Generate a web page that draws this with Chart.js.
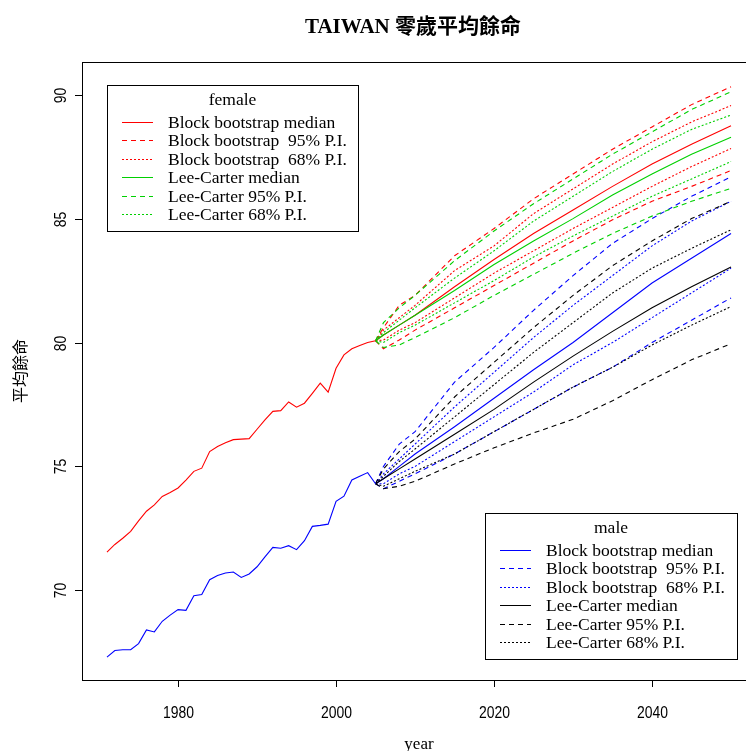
<!DOCTYPE html>
<html>
<head>
<meta charset="utf-8">
<script src="https://cdn.jsdelivr.net/npm/chart.js@4.4.1/dist/chart.umd.min.js"></script>
<style>
  body { margin: 0; background: #fff; overflow: hidden; }
  #wrap { width: 780px; height: 751px; }
</style>
</head>
<body>
<div id="wrap"><canvas id="myChart" width="780" height="751"></canvas></div>
<script>
// observed life expectancy at birth
const histYears = [1971, 1972, 1973, 1974, 1975, 1976, 1977, 1978, 1979, 1980,
  1981, 1982, 1983, 1984, 1985, 1986, 1987, 1988, 1989, 1990,
  1991, 1992, 1993, 1994, 1995, 1996, 1997, 1998, 1999, 2000,
  2001, 2002, 2003, 2004, 2005];
const femaleHist = [71.54, 71.85, 72.1, 72.38, 72.8, 73.19, 73.45, 73.79, 73.95, 74.13,
  74.45, 74.8, 74.93, 75.6, 75.8, 75.95, 76.08, 76.1, 76.12, 76.5,
  76.88, 77.22, 77.25, 77.6, 77.39, 77.55, 77.95, 78.36, 78.0, 78.96,
  79.5, 79.75, 79.88, 80.0, 80.07];
const maleHist = [67.3, 67.57, 67.6, 67.6, 67.85, 68.4, 68.32, 68.75, 69.0, 69.22,
  69.19, 69.78, 69.83, 70.43, 70.6, 70.7, 70.74, 70.52, 70.66, 70.95,
  71.35, 71.73, 71.7, 71.8, 71.64, 72.0, 72.58, 72.62, 72.67, 73.59,
  73.8, 74.45, 74.6, 74.75, 74.3];

// forecasts
const fcYears = [2005, 2006, 2008, 2010, 2015, 2020, 2025, 2030, 2035, 2040, 2045, 2050];

const fBbMed  = [80.07, 80.3, 80.7, 81.1, 82.25, 83.35, 84.4, 85.35, 86.3, 87.2, 88.0, 88.75];
const fBb95Hi = [80.07, 80.6, 81.5, 81.9, 83.5, 84.6, 85.8, 86.8, 87.8, 88.7, 89.6, 90.32];
const fBb95Lo = [80.07, 79.75, 80.1, 80.5, 81.4, 82.3, 83.2, 84.1, 84.95, 85.7, 86.3, 86.94];
const fBb68Hi = [80.07, 80.5, 81.0, 81.5, 82.9, 83.9, 85.2, 86.2, 87.2, 88.1, 88.9, 89.56];
const fBb68Lo = [80.07, 80.1, 80.5, 80.8, 81.8, 82.8, 83.7, 84.6, 85.45, 86.3, 87.1, 87.83];
const fLcMed  = [80.07, 80.3, 80.7, 81.1, 82.1, 83.15, 84.1, 85.0, 85.95, 86.8, 87.6, 88.28];
const fLc95Hi = [80.07, 80.8, 81.4, 81.9, 83.3, 84.5, 85.6, 86.6, 87.6, 88.5, 89.4, 90.12];
const fLc95Lo = [80.07, 79.8, 79.9, 80.2, 81.0, 81.9, 82.75, 83.6, 84.4, 85.1, 85.7, 86.22];
const fLc68Hi = [80.07, 80.4, 80.9, 81.4, 82.6, 83.7, 84.9, 85.9, 86.9, 87.8, 88.6, 89.18];
const fLc68Lo = [80.07, 80.0, 80.4, 80.7, 81.6, 82.5, 83.45, 84.3, 85.1, 85.9, 86.6, 87.3];

const mBbMed  = [74.3, 74.5, 75.0, 75.5, 76.6, 77.75, 78.9, 80.0, 81.2, 82.4, 83.4, 84.4];
const mBb95Hi = [74.3, 75.0, 75.9, 76.4, 78.4, 79.8, 81.3, 82.7, 84.0, 85.0, 85.9, 86.69];
const mBb95Lo = [74.3, 74.1, 74.4, 74.7, 75.5, 76.4, 77.3, 78.2, 79.0, 80.0, 80.9, 81.8];
const mBb68Hi = [74.3, 74.7, 75.3, 75.9, 77.4, 78.8, 80.2, 81.5, 82.7, 83.9, 84.9, 85.7];
const mBb68Lo = [74.3, 74.3, 74.7, 75.0, 76.0, 77.0, 78.0, 79.1, 80.0, 81.0, 82.0, 83.0];
const mLcMed  = [74.3, 74.5, 74.9, 75.3, 76.3, 77.3, 78.4, 79.45, 80.45, 81.4, 82.25, 83.05];
const mLc95Hi = [74.3, 74.9, 75.6, 76.1, 77.8, 79.2, 80.6, 81.9, 83.1, 84.1, 85.0, 85.7];
const mLc95Lo = [74.3, 74.1, 74.2, 74.4, 75.1, 75.75, 76.35, 76.9, 77.65, 78.5, 79.3, 79.95];
const mLc68Hi = [74.3, 74.6, 75.2, 75.7, 77.0, 78.3, 79.6, 80.8, 82.0, 83.0, 83.8, 84.55];
const mLc68Lo = [74.3, 74.2, 74.5, 74.8, 75.5, 76.4, 77.3, 78.2, 79.0, 79.9, 80.7, 81.45];

const xTicks = [1980, 2000, 2020, 2040];
const yTicks = [70, 75, 80, 85, 90];

const legendLabels = ["Block bootstrap median", "Block bootstrap  95% P.I.", "Block bootstrap  68% P.I.",
  "Lee-Carter median", "Lee-Carter 95% P.I.", "Lee-Carter 68% P.I."];

const RED = "#ff0000", GREEN = "#00d000", BLUE = "#0000ff", BLACK = "#000000";
const SOLID = [], DASH = [5, 4], DOT = [2, 2];

function pts(xs, ys) {
  return xs.map((x, i) => ({ x: x, y: ys[i] }));
}
function line(xs, ys, color, dash) {
  return {
    data: pts(xs, ys), borderColor: color, borderDash: dash, borderWidth: 1.1,
    pointRadius: 0, tension: 0, fill: false
  };
}

let datasets = [
  line(histYears, femaleHist, RED, SOLID),
  line(histYears, maleHist, BLUE, SOLID),
  line(fcYears, fLc95Hi, GREEN, DASH), line(fcYears, fLc95Lo, GREEN, DASH),
  line(fcYears, fLc68Hi, GREEN, DOT), line(fcYears, fLc68Lo, GREEN, DOT),
  line(fcYears, fLcMed, GREEN, SOLID),
  line(fcYears, fBb95Hi, RED, DASH), line(fcYears, fBb95Lo, RED, DASH),
  line(fcYears, fBb68Hi, RED, DOT), line(fcYears, fBb68Lo, RED, DOT),
  line(fcYears, fBbMed, RED, SOLID),
  line(fcYears, mLc95Hi, BLACK, DASH), line(fcYears, mLc95Lo, BLACK, DASH),
  line(fcYears, mLc68Hi, BLACK, DOT), line(fcYears, mLc68Lo, BLACK, DOT),
  line(fcYears, mLcMed, BLACK, SOLID),
  line(fcYears, mBb95Hi, BLUE, DASH), line(fcYears, mBb95Lo, BLUE, DASH),
  line(fcYears, mBb68Hi, BLUE, DOT), line(fcYears, mBb68Lo, BLUE, DOT),
  line(fcYears, mBbMed, BLUE, SOLID)
];

const SERIF = '"Liberation Serif", "Times New Roman", serif';
const TICKFONT = '17px "Liberation Sans", sans-serif';

// legend key drawn pixel by pixel so the colour stays crisp
function drawKey(ctx, x0, y0, len, color, dash) {
  ctx.fillStyle = color;
  if (dash.length == 0) {
    ctx.fillRect(x0, y0, len, 1);
    return;
  }
  let x = x0, on = true, k = 0;
  while (x < x0 + len) {
    let seg = Math.min(dash[k % dash.length], x0 + len - x);
    if (on) ctx.fillRect(x, y0, seg, 1);
    x += seg;
    on = !on;
    k++;
  }
}

function drawLegend(ctx, left, top, w, h, title, styles) {
  ctx.save();
  ctx.strokeStyle = "#000";
  ctx.lineWidth = 1;
  ctx.setLineDash([]);
  ctx.strokeRect(left + 0.5, top + 0.5, w, h);
  ctx.font = "17.5px " + SERIF;
  ctx.textBaseline = "middle";
  ctx.textAlign = "center";
  ctx.fillStyle = "#000";
  ctx.fillText(title, left + w / 2, top + 15);
  ctx.textAlign = "left";
  for (let i = 0; i < legendLabels.length; i++) {
    let yy = Math.round(top + 37 + i * 18.4);
    drawKey(ctx, left + 15, yy, 31, styles[i][0], styles[i][1]);
    ctx.fillStyle = "#000";
    ctx.fillText(legendLabels[i], left + 61, yy + 1.5);
  }
  ctx.restore();
}

// R style box, ticks, labels and the two legends
const rDecor = {
  id: "rDecor",
  afterDraw(chart) {
    const ctx = chart.ctx;
    const a = chart.chartArea;
    const xs = chart.scales.x, ys = chart.scales.y;
    ctx.save();
    ctx.strokeStyle = "#000";
    ctx.fillStyle = "#000";
    ctx.lineWidth = 1;
    ctx.setLineDash([]);
    ctx.strokeRect(Math.round(a.left) + 0.5, Math.round(a.top) + 0.5,
      Math.round(a.right - a.left), Math.round(a.bottom - a.top));

    ctx.font = TICKFONT;
    ctx.textAlign = "center";
    ctx.textBaseline = "middle";
    xTicks.forEach(v => {
      let px = Math.round(xs.getPixelForValue(v)) + 0.5;
      ctx.beginPath();
      ctx.moveTo(px, a.bottom);
      ctx.lineTo(px, a.bottom + 7);
      ctx.stroke();
      ctx.save();
      ctx.translate(px, a.bottom + 33);
      ctx.scale(0.82, 1);
      ctx.fillText(String(v), 0, 0);
      ctx.restore();
    });
    yTicks.forEach(v => {
      let py = Math.round(ys.getPixelForValue(v)) + 0.5;
      ctx.beginPath();
      ctx.moveTo(a.left, py);
      ctx.lineTo(a.left - 7, py);
      ctx.stroke();
      ctx.save();
      ctx.translate(a.left - 21, py);
      ctx.rotate(-Math.PI / 2);
      ctx.scale(0.82, 1);
      ctx.fillText(String(v), 0, 0);
      ctx.restore();
    });

    // titles
    ctx.font = 'bold 21px "Liberation Serif", "Noto Sans CJK TC", serif';
    ctx.fillText("TAIWAN 零歲平均餘命", 413, 28);
    ctx.font = "17px " + SERIF;
    ctx.fillText("year", 419, 745);
    ctx.save();
    ctx.font = '16px "Noto Sans CJK TC", sans-serif';
    ctx.translate(20, (a.top + a.bottom) / 2);
    ctx.rotate(-Math.PI / 2);
    ctx.fillText("平均餘命", 0, 0);
    ctx.restore();
    ctx.restore();

    drawLegend(ctx, 107, 85, 251, 146, "female",
      [[RED, SOLID], [RED, DASH], [RED, DOT], [GREEN, SOLID], [GREEN, DASH], [GREEN, DOT]]);
    drawLegend(ctx, 485, 513, 252, 146, "male",
      [[BLUE, SOLID], [BLUE, DASH], [BLUE, DOT], [BLACK, SOLID], [BLACK, DASH], [BLACK, DOT]]);
  }
};

new Chart(document.getElementById("myChart"), {
  type: "line",
  data: { datasets: datasets },
  options: {
    responsive: false,
    animation: false,
    events: [],
    layout: { padding: { left: 82, right: 24, top: 62, bottom: 71 } },
    plugins: { legend: { display: false }, title: { display: false }, tooltip: { enabled: false } },
    scales: {
      x: { type: "linear", display: false, min: 1967.84, max: 2053.16 },
      y: { type: "linear", display: false, min: 66.38, max: 91.32 }
    }
  },
  plugins: [rDecor]
});
</script>
</body>
</html>
